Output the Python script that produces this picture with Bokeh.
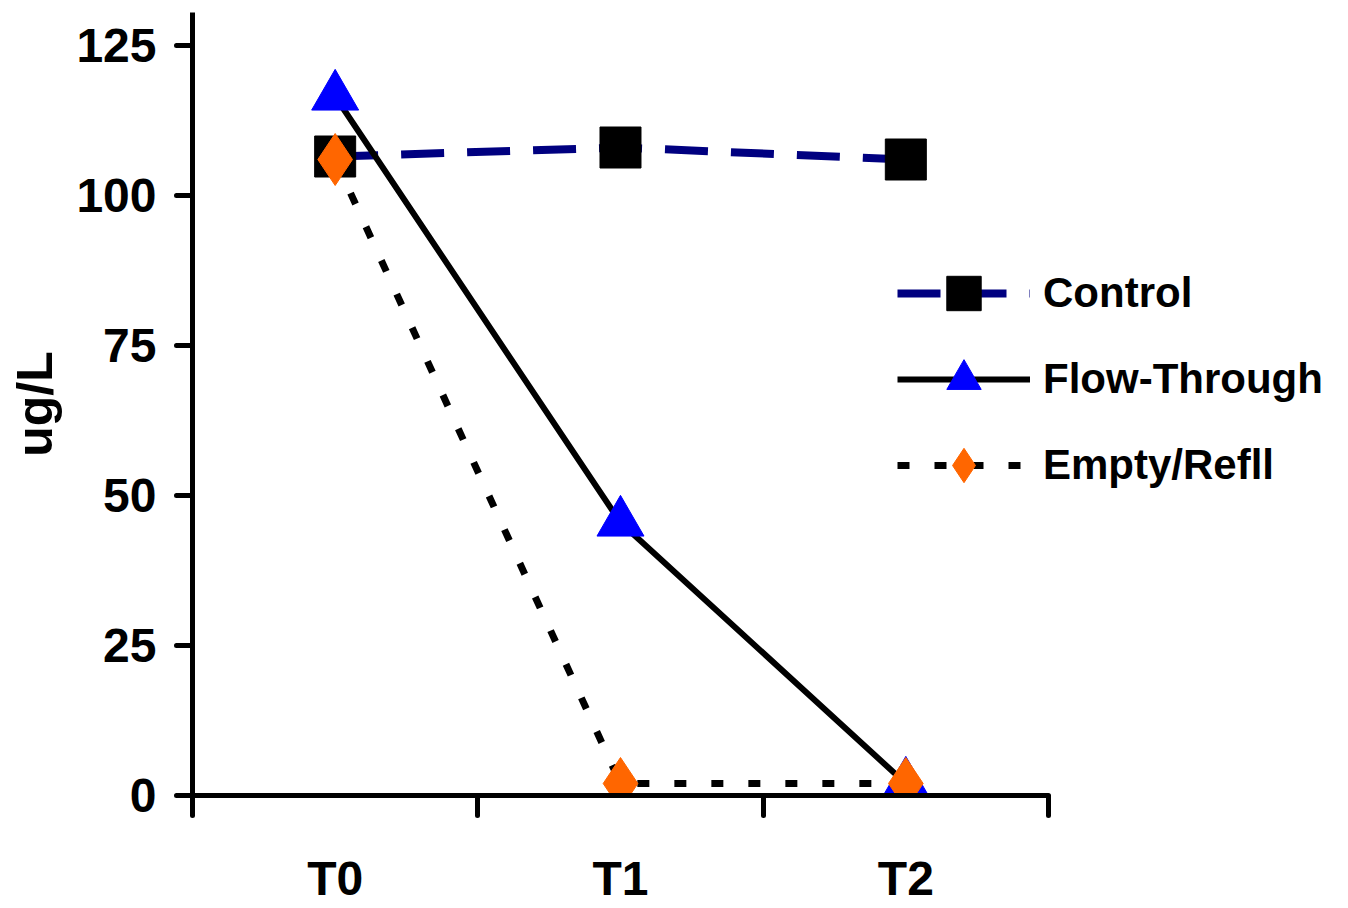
from bokeh.plotting import figure
from bokeh.models import (Range1d, LinearAxis, FixedTicker, Legend, LegendItem)
from bokeh.embed import file_html
from bokeh.resources import INLINE

# ---- data ----
categories = ["T0", "T1", "T2"]
control = [106.5, 108.0, 106.0]
flow_through = [116.5, 45.5, 2.0]
empty_refill = [106.0, 2.0, 2.0]
y_ticks = [0, 25, 50, 75, 100, 125]
series_names = ["Control", "Flow-Through", "Empty/Refll"]
y_title = "ug/L"

FONT = "Liberation Sans"
TICK_FS = "48px"
LEG_FS = "42px"

# category positions on a numeric scale (category i is centred at i + 0.5)
n = len(categories)
xpos = [i + 0.5 for i in range(n)]

p = figure(width=1348, height=908,
           x_range=Range1d(0, 4.0234),
           y_range=Range1d(0, 130.5),
           x_axis_type=None, y_axis_type=None,
           output_backend="svg", toolbar_location=None,
           min_border_left=192, min_border_right=8,
           min_border_top=12, min_border_bottom=113)
p.outline_line_color = None
p.background_fill_color = "white"
p.border_fill_color = "white"

# ---- axes ----
xaxis = LinearAxis(
    ticker=FixedTicker(ticks=xpos, minor_ticks=[float(i) for i in range(n + 1)]),
    major_label_overrides={x: c for x, c in zip(xpos, categories)},
    bounds=(0, n),
)
xaxis.axis_line_width = 5
xaxis.axis_line_color = "black"
xaxis.major_tick_line_color = None
xaxis.major_tick_out = 0
xaxis.major_tick_in = 0
xaxis.minor_tick_line_color = "black"
xaxis.minor_tick_line_width = 5
xaxis.minor_tick_line_cap = "round"
xaxis.minor_tick_out = 20
xaxis.minor_tick_in = 0
xaxis.major_label_standoff = 36
xaxis.major_label_text_font = FONT
xaxis.major_label_text_font_style = "bold"
xaxis.major_label_text_font_size = TICK_FS
xaxis.major_label_text_color = "black"
p.add_layout(xaxis, "below")

yaxis = LinearAxis(ticker=FixedTicker(ticks=y_ticks, minor_ticks=[]))
yaxis.axis_line_width = 5
yaxis.axis_line_color = "black"
yaxis.major_tick_line_width = 5
yaxis.major_tick_line_color = "black"
yaxis.major_tick_line_cap = "round"
yaxis.major_tick_out = 16
yaxis.major_tick_in = 0
yaxis.minor_tick_line_color = None
yaxis.major_label_standoff = 20
yaxis.major_label_text_font = FONT
yaxis.major_label_text_font_style = "bold"
yaxis.major_label_text_font_size = TICK_FS
yaxis.major_label_text_color = "black"
yaxis.axis_label = y_title
yaxis.axis_label_text_font = FONT
yaxis.axis_label_text_font_style = "bold"
yaxis.axis_label_text_font_size = "50px"
yaxis.axis_label_text_color = "black"
yaxis.axis_label_standoff = 10
p.add_layout(yaxis, "left")

# ---- series ----
l_ctrl = p.line(xpos, control, line_color="#000080", line_width=8,
                line_dash="43 23")
m_ctrl = p.scatter(xpos, control, marker="square", size=41,
                   fill_color="black", line_color="black")
l_flow = p.line(xpos, flow_through, line_color="black", line_width=6)
m_flow = p.scatter(xpos, flow_through, marker="triangle", size=47,
                   fill_color="#0000FF", line_color="#0000FF")
l_empty = p.line(xpos, empty_refill, line_color="black", line_width=7,
                 line_dash="12 25")
m_empty = p.scatter(xpos, empty_refill, marker="diamond", size=52,
                    fill_color="#FF6600", line_color="#FF6600")

legend = Legend(items=[
    LegendItem(label=series_names[0], renderers=[l_ctrl, m_ctrl]),
    LegendItem(label=series_names[1], renderers=[l_flow, m_flow]),
    LegendItem(label=series_names[2], renderers=[l_empty, m_empty]),
], location=(705, 287))
legend.glyph_width = 133
legend.glyph_height = 86
legend.label_height = 86
legend.label_standoff = 13
legend.spacing = 0
legend.padding = 0
legend.margin = 0
legend.border_line_color = None
legend.background_fill_alpha = 0
legend.label_text_font = FONT
legend.label_text_font_style = "bold"
legend.label_text_font_size = LEG_FS
legend.label_text_color = "black"
legend.label_text_baseline = "middle"
p.add_layout(legend, "center")

open("out.html", "w").write(file_html(p, INLINE))
